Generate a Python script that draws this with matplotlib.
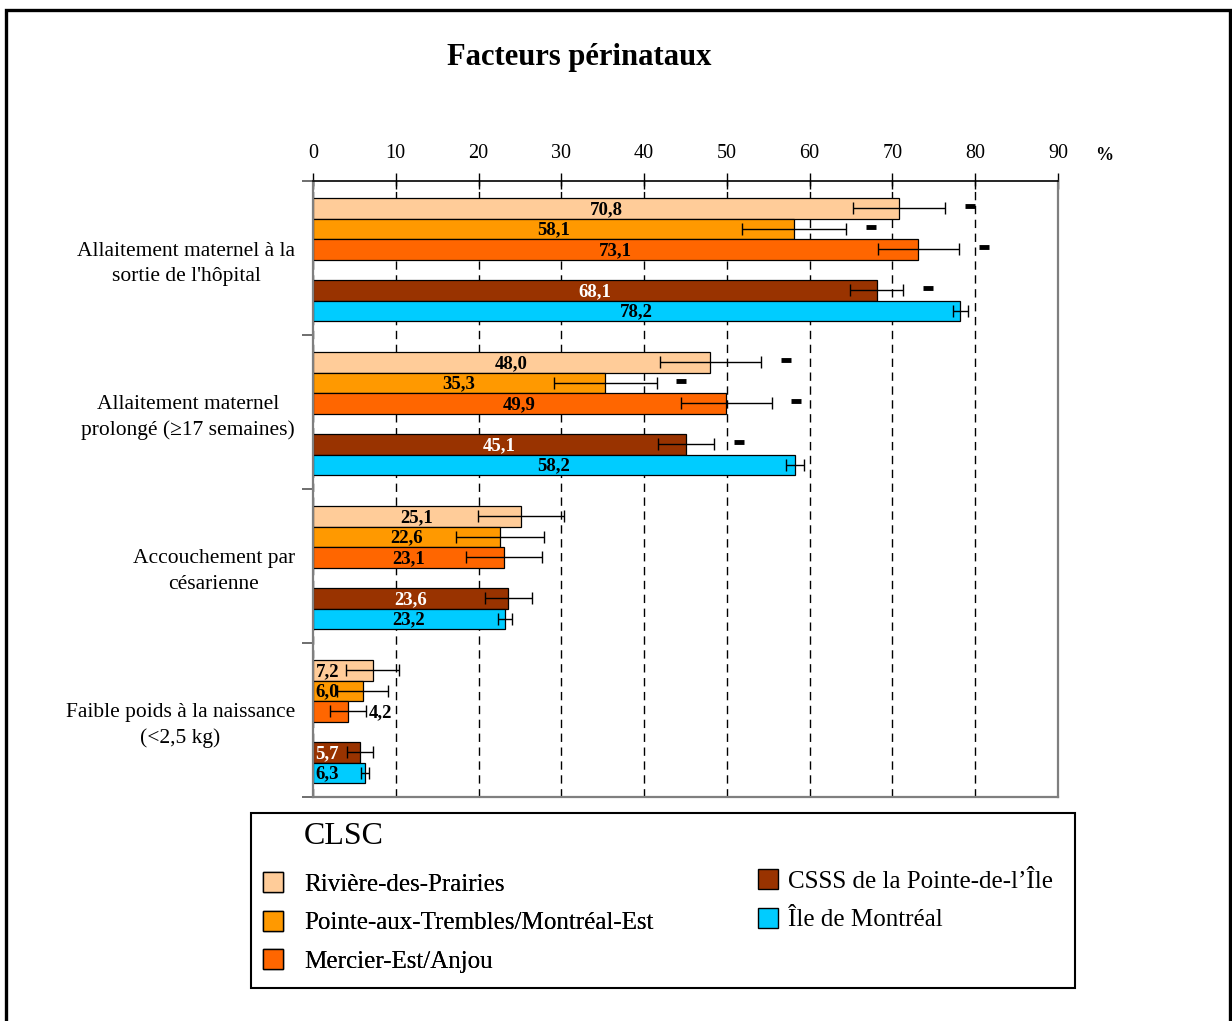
import numpy as np
import matplotlib.pyplot as plt
from matplotlib.patches import Rectangle, Patch

plt.rcParams["font.family"] = ["Liberation Serif", "DejaVu Serif"]

# Data (%)
categories = [
    "Allaitement maternel à la\nsortie de l'hôpital",
    "Allaitement maternel\nprolongé (≥17 semaines)",
    "Accouchement par\ncésarienne",
    "Faible poids à la naissance\n(<2,5 kg)",
]
territories = [
    "Rivière-des-Prairies",
    "Pointe-aux-Trembles/Montréal-Est",
    "Mercier-Est/Anjou",
    "CSSS de la Pointe-de-l’Île",
    "Île de Montréal",
]

rdp_vals = [70.8, 48.0, 25.1, 7.2]
pat_vals = [58.1, 35.3, 22.6, 6.0]
mea_vals = [73.1, 49.9, 23.1, 4.2]
csss_vals = [68.1, 45.1, 23.6, 5.7]
mtl_vals = [78.2, 58.2, 23.2, 6.3]

# half-width of the confidence intervals
rdp_err = [5.6, 6.1, 5.2, 3.2]
pat_err = [6.3, 6.2, 5.3, 3.1]
mea_err = [4.9, 5.5, 4.6, 2.2]
csss_err = [3.2, 3.4, 2.8, 1.6]
mtl_err = [0.9, 1.1, 0.9, 0.5]

# significantly different from Montréal (black dash)
rdp_sig = [True, True, False, False]
pat_sig = [True, True, False, False]
mea_sig = [True, True, False, False]
csss_sig = [True, True, False, False]
mtl_sig = [False, False, False, False]

values = [rdp_vals, pat_vals, mea_vals, csss_vals, mtl_vals]
errors = [rdp_err, pat_err, mea_err, csss_err, mtl_err]
sigs = [rdp_sig, pat_sig, mea_sig, csss_sig, mtl_sig]
colors = ["#FFCC99", "#FF9900", "#FF6600", "#993300", "#00CCFF"]
label_colors = ["black", "black", "black", "white", "black"]

fig = plt.figure(figsize=(12.32, 10.21), dpi=100)
W, H = 1232, 1021
ax = fig.add_axes([313 / W, 1 - 797 / H, (1058 - 313) / W, (797 - 181) / H])

group_h = 7.5
slots = [0, 1, 2, 4, 5]
group_start = np.arange(len(categories)) * group_h

for i in range(len(territories)):
    y = group_start + 1.33 + slots[i]
    ax.barh(y, values[i], height=1.0, color=colors[i], edgecolor="black",
            linewidth=0.9, zorder=2)
    ax.errorbar(values[i], y, xerr=errors[i], fmt="none", ecolor="black",
                elinewidth=1, capsize=4.5, capthick=1, zorder=3)
    for v, e, yy, s in zip(values[i], errors[i], y, sigs[i]):
        txt = f"{v:.1f}".replace(".", ",")
        if v < 5:
            # bar too short: value goes after the error bar
            ax.text(v + e + 0.3, yy + 0.05, txt, ha="left", va="center",
                    fontsize=13.5, fontweight="bold", color="black", zorder=4)
        elif v < 8:
            ax.text(0.3, yy + 0.05, txt, ha="left", va="center",
                    fontsize=13.5, fontweight="bold", color=label_colors[i], zorder=4)
        else:
            ax.text(v / 2, yy + 0.05, txt, ha="center", va="center",
                    fontsize=13.5, fontweight="bold", color=label_colors[i], zorder=4)
        if s:
            ax.plot(v + e + 3, yy - 0.1, marker="_", ms=7, mew=3.5,
                    color="black", ls="none", zorder=4)

ax.set_xlim(0, 90)
ax.set_ylim(len(categories) * group_h, 0)

# top x axis
ax.xaxis.tick_top()
ax.set_xticks(range(0, 91, 10))
ax.tick_params(axis="x", direction="inout", length=12, width=1, pad=7,
               labelsize=14.5, colors="black")
ax.grid(axis="x", color="black", linewidth=1, linestyle=(0, (6, 4)), zorder=0)
ax.set_axisbelow(True)

# y axis: group separators as major ticks, labels as minor ticks
ax.set_yticks(np.append(group_start, len(categories) * group_h))
ax.set_yticklabels([])
ax.set_yticks(group_start + group_h / 2, minor=True)
ax.set_yticklabels(categories, minor=True, fontsize=15.5)
ax.tick_params(axis="y", which="major", direction="out", length=8,
               width=1.2, color="#555555")
ax.tick_params(axis="y", which="minor", length=0, pad=13)
for lbl in ax.get_yticklabels(minor=True):
    lbl.set_multialignment("center")
    lbl.set_linespacing(1.45)

ax.spines["top"].set_color("black")
ax.spines["top"].set_linewidth(1.2)
for sp in ["left", "right", "bottom"]:
    ax.spines[sp].set_color("#7f7f7f")
    ax.spines[sp].set_linewidth(1.6)

# titles
fig.text(579 / W, 1 - 57 / H, "Facteurs périnataux", ha="center", va="center",
         fontsize=22, fontweight="bold")
fig.text(1104 / W, 1 - 155 / H, "%", ha="center", va="center",
         fontsize=13, fontweight="bold")

# legend
fig.add_artist(Rectangle((251 / W, 1 - 988 / H), (1075 - 251) / W, (988 - 813) / H,
                         transform=fig.transFigure, fill=False, lw=1.5,
                         edgecolor="black"))
fig.text(304 / W, 1 - 836 / H, "CLSC", ha="left", va="center", fontsize=23)

handles = [Patch(facecolor=c, edgecolor="black", linewidth=1) for c in colors]
leg1 = fig.legend(handles[:3], territories[:3], loc="upper left",
                  bbox_to_anchor=(263 / W, 1 - 872 / H), frameon=False,
                  fontsize=18, handlelength=0.8, handleheight=0.85,
                  handletextpad=0.84, labelspacing=0.6, borderpad=0,
                  borderaxespad=0)
fig.add_artist(leg1)
fig.legend(handles[3:], territories[3:], loc="upper left",
           bbox_to_anchor=(758 / W, 1 - 869 / H), frameon=False,
           fontsize=18, handlelength=0.8, handleheight=0.85,
           handletextpad=0.4, labelspacing=0.6, borderpad=0,
           borderaxespad=0)

# outer frame
fig.add_artist(Rectangle((6 / W, -0.1), (1230 - 6) / W, 1.1 - 10 / H,
                         transform=fig.transFigure, fill=False, lw=2.4,
                         edgecolor="black", clip_on=False))

fig.savefig("out.png", dpi=100)
